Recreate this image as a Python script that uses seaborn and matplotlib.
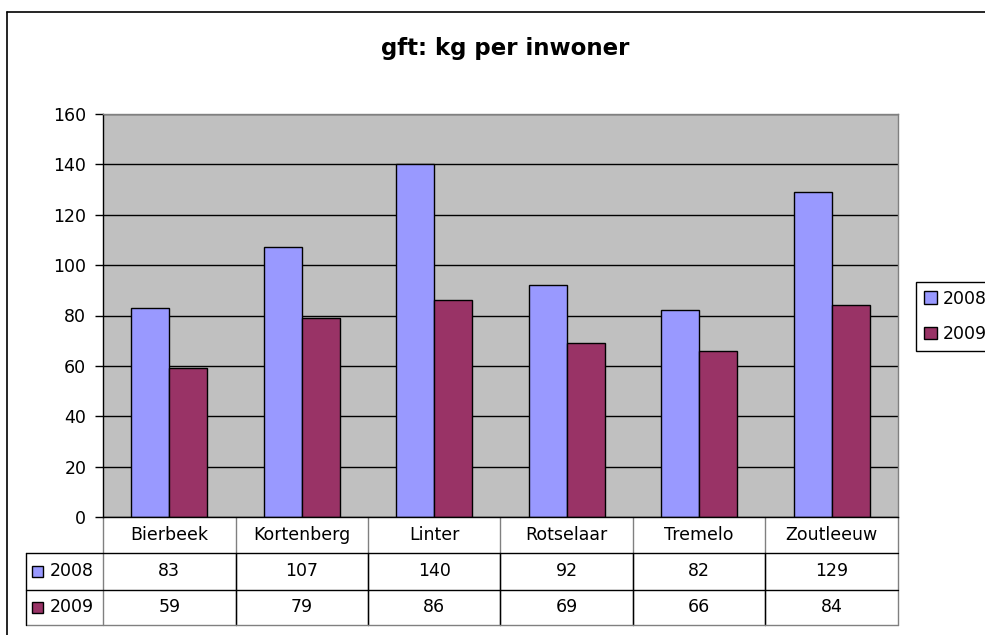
import matplotlib
matplotlib.use("Agg")
import matplotlib.pyplot as plt
import matplotlib.transforms as mtransforms
from matplotlib.lines import Line2D
import pandas as pd
import seaborn as sns

gemeenten = ["Bierbeek", "Kortenberg", "Linter", "Rotselaar", "Tremelo", "Zoutleeuw"]
jaren = ["2008", "2009"]
kg_2008 = [83, 107, 140, 92, 82, 129]
kg_2009 = [59, 79, 86, 69, 66, 84]
kleuren = ["#9999FF", "#993366"]
y_ticks = [0, 20, 40, 60, 80, 100, 120, 140, 160]

df = pd.DataFrame({
    "gemeente": gemeenten * 2,
    "jaar": [jaren[0]] * len(gemeenten) + [jaren[1]] * len(gemeenten),
    "kg": kg_2008 + kg_2009,
})

W, H = 985, 635
# plot area in pixels
L, R, T, B = 103, 898, 114, 517
rows = [517, 553, 590, 625]
lab_left = 26
fs = 12.5

sns.set_theme(style="white")
plt.rcParams["font.family"] = ["DejaVu Sans"]
plt.rcParams["text.color"] = "black"
plt.rcParams["ytick.color"] = "black"

fig = plt.figure(figsize=(W / 100, H / 100), dpi=100)
fig.patch.set_facecolor("white")
ax = fig.add_axes([L / W, 1 - B / H, (R - L) / W, (B - T) / H])
ax.set_facecolor("#C0C0C0")

sns.barplot(data=df, x="gemeente", y="kg", hue="jaar", palette=kleuren,
            saturation=1, width=0.574, edgecolor="black", linewidth=1,
            ax=ax, legend=True)

ax.set_ylim(0, 160)
ax.set_xlim(-0.5, len(gemeenten) - 0.5)
ax.set_yticks(y_ticks)
ax.set_xticks([])
ax.set_xlabel("")
ax.set_ylabel("")
ax.yaxis.grid(True, color="black", linewidth=1)
ax.set_axisbelow(True)
ax.tick_params(axis="y", direction="out", length=6, width=1, color="black",
               labelcolor="black", labelsize=fs, pad=6, left=True)
for s in ["left", "bottom"]:
    ax.spines[s].set_color("black")
    ax.spines[s].set_linewidth(1)
for s in ["top", "right"]:
    ax.spines[s].set_color("#808080")
    ax.spines[s].set_linewidth(1)

# legend
handles, labels = ax.get_legend_handles_labels()
leg = ax.legend(handles, labels, loc="upper left",
                bbox_to_anchor=(916 / W, 1 - 282 / H), bbox_transform=fig.transFigure,
                frameon=True, fancybox=False, edgecolor="black", framealpha=1,
                fontsize=fs, handlelength=0.75, handleheight=0.75, handletextpad=0.35,
                borderpad=0.45, labelspacing=1.0, borderaxespad=0)
for t in leg.get_texts():
    t.set_color("black")

# title
fig.text(505 / W, 1 - 49 / H, "gft: kg per inwoner", ha="center", va="center",
         fontsize=16.5, fontweight="bold", color="black")

# data table under the plot
tr = mtransforms.blended_transform_factory(ax.transData, fig.transFigure)
px_per_cat = (R - L) / len(gemeenten)
x_lab = -0.5 - (L - lab_left) / px_per_cat
xr = len(gemeenten) - 0.5


def fy(p):
    return 1 - p / H


# header row verticals (grey)
for i in range(len(gemeenten) + 1):
    x = i - 0.5
    ax.add_line(Line2D([x, x], [fy(rows[0]), fy(rows[3])], transform=tr,
                       color="#808080", linewidth=1, clip_on=False))
# inner verticals in the value rows
for i in range(1, len(gemeenten)):
    x = i - 0.5
    ax.add_line(Line2D([x, x], [fy(rows[1]), fy(rows[3])], transform=tr,
                       color="black", linewidth=1, clip_on=False))
ax.add_line(Line2D([x_lab, xr], [fy(rows[1])] * 2, transform=tr, color="black",
                   linewidth=1, clip_on=False))
ax.add_line(Line2D([x_lab, xr], [fy(rows[2])] * 2, transform=tr, color="black",
                   linewidth=1, clip_on=False))
ax.add_line(Line2D([x_lab, xr], [fy(rows[3])] * 2, transform=tr, color="#808080",
                   linewidth=1, clip_on=False))
ax.add_line(Line2D([x_lab, x_lab], [fy(rows[1]), fy(rows[3])], transform=tr,
                   color="black", linewidth=1, clip_on=False))

for i, g in enumerate(gemeenten):
    ax.text(i, fy((rows[0] + rows[1]) / 2), g, transform=tr, ha="center",
            va="center", fontsize=fs, clip_on=False)
    ax.text(i, fy((rows[1] + rows[2]) / 2), str(kg_2008[i]), transform=tr,
            ha="center", va="center", fontsize=fs, clip_on=False)
    ax.text(i, fy((rows[2] + rows[3]) / 2), str(kg_2009[i]), transform=tr,
            ha="center", va="center", fontsize=fs, clip_on=False)

# series labels with colour keys
for j, (jaar, kleur) in enumerate(zip(jaren, kleuren)):
    yc = fy((rows[1 + j] + rows[2 + j]) / 2)
    fig.patches.append(plt.Rectangle(((lab_left + 6) / W, yc - 5.5 / H), 11 / W, 11 / H,
                                     transform=fig.transFigure, facecolor=kleur,
                                     edgecolor="black", linewidth=1))
    fig.text((lab_left + 24) / W, yc, jaar, ha="left", va="center", fontsize=fs)

# outer chart border
fig.add_artist(Line2D([7 / W, 1], [fy(12), fy(12)], color="black", linewidth=1.2))
fig.add_artist(Line2D([7 / W, 7 / W], [0, fy(12)], color="black", linewidth=1.2))

fig.savefig("out.png", dpi=100)
